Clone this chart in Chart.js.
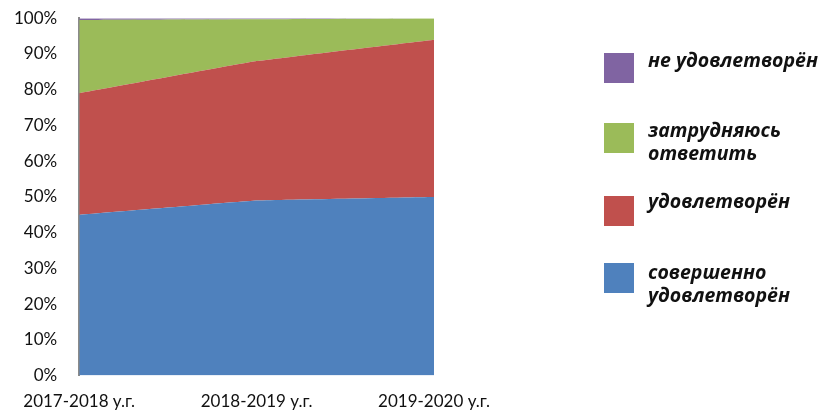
<!DOCTYPE html>
<html>
<head>
<meta charset="utf-8">
<script src="https://cdn.jsdelivr.net/npm/chart.js@4/dist/chart.umd.min.js"></script>
<style>
  html, body { margin: 0; padding: 0; background: #fff; overflow: hidden; }
  #wrap { position: relative; width: 821px; height: 414px; overflow: hidden; }
  #area-chart { position: absolute; left: 0; top: -6px; }
  #legend { position: absolute; left: 0; top: 0; }
  .box { position: absolute; left: 0; width: 30px; height: 30px; }
  .txt { position: absolute; left: 44px; white-space: nowrap;
         font-family: "Open Sans", sans-serif; font-weight: 700; font-style: italic;
         font-size: 19.5px; line-height: 23px; color: #111; }
</style>
</head>
<body>
<div id="wrap">
  <canvas id="area-chart" width="821" height="426"></canvas>
  <div id="legend"></div>
</div>
<script>
/* ----------------------------
   DATA
   ---------------------------- */
var years = ["2017-2018 у.г.", "2018-2019 у.г.", "2019-2020 у.г."];

var fullySatisfied = [45, 49, 50];     // совершенно удовлетворён
var satisfied      = [34, 39, 44];     // удовлетворён
var hardToSay      = [20.5, 11.7, 6];  // затрудняюсь ответить
var notSatisfied   = [0.5, 0.3, 0];    // не удовлетворён

var yTicks = [0, 10, 20, 30, 40, 50, 60, 70, 80, 90, 100];

/* ----------------------------
   CHART
   ---------------------------- */
function makeSet(label, data, color, fill) {
  return {
    label: label,
    data: data,
    backgroundColor: color,
    borderColor: color,
    borderWidth: 0,
    pointRadius: 0,
    fill: fill,
    tension: 0.05
  };
}

var ctx = document.getElementById("area-chart").getContext("2d");

var areaChart = new Chart(ctx, {
  type: "line",
  data: {
    labels: years,
    datasets: [
      makeSet("совершенно удовлетворён", fullySatisfied, "#4f81bd", "origin"),
      makeSet("удовлетворён", satisfied, "#c0504d", "-1"),
      makeSet("затрудняюсь ответить", hardToSay, "#9bbb59", "-1"),
      makeSet("не удовлетворён", notSatisfied, "#8064a2", "-1")
    ]
  },
  options: {
    responsive: false,
    animation: false,
    layout: { padding: { top: 3, right: 387, left: 0, bottom: 0 } },
    plugins: {
      legend: { display: false },
      tooltip: { enabled: false }
    },
    scales: {
      x: {
        offset: false,
        grid: { display: false },
        border: { display: false },
        ticks: {
          color: "#111",
          font: { family: "Lato", size: 17 },
          maxRotation: 0,
          autoSkip: false,
          padding: 8
        }
      },
      y: {
        stacked: true,
        min: 0,
        max: 100,
        afterBuildTicks: function (axis) {
          axis.ticks = yTicks.map(function (v) { return { value: v }; });
        },
        grid: { display: false },
        border: { display: true, color: "#8a8a8a", width: 2 },
        ticks: {
          color: "#111",
          font: { family: "Lato", size: 17 },
          padding: 14,
          callback: function (v) { return v + "%"; }
        }
      }
    }
  }
});

/* ----------------------------
   LEGEND (HTML, right side)
   ---------------------------- */
var legendItems = [
  { lines: ["не удовлетворён"], color: "#8064a2", boxTop: 53, textTop: 48 },
  { lines: ["затрудняюсь", "ответить"], color: "#9bbb59", boxTop: 123, textTop: 118 },
  { lines: ["удовлетворён"], color: "#c0504d", boxTop: 196, textTop: 189 },
  { lines: ["совершенно", "удовлетворён"], color: "#4f81bd", boxTop: 263, textTop: 260 }
];

var legendEl = document.getElementById("legend");
legendItems.forEach(function (it) {
  var box = document.createElement("div");
  box.className = "box";
  box.style.background = it.color;
  box.style.top = it.boxTop + "px";
  box.style.left = "604px";
  legendEl.appendChild(box);

  var txt = document.createElement("div");
  txt.className = "txt";
  txt.style.top = it.textTop + "px";
  txt.style.left = "648px";
  txt.innerHTML = it.lines.join("<br>");
  legendEl.appendChild(txt);
});
</script>
</body>
</html>
